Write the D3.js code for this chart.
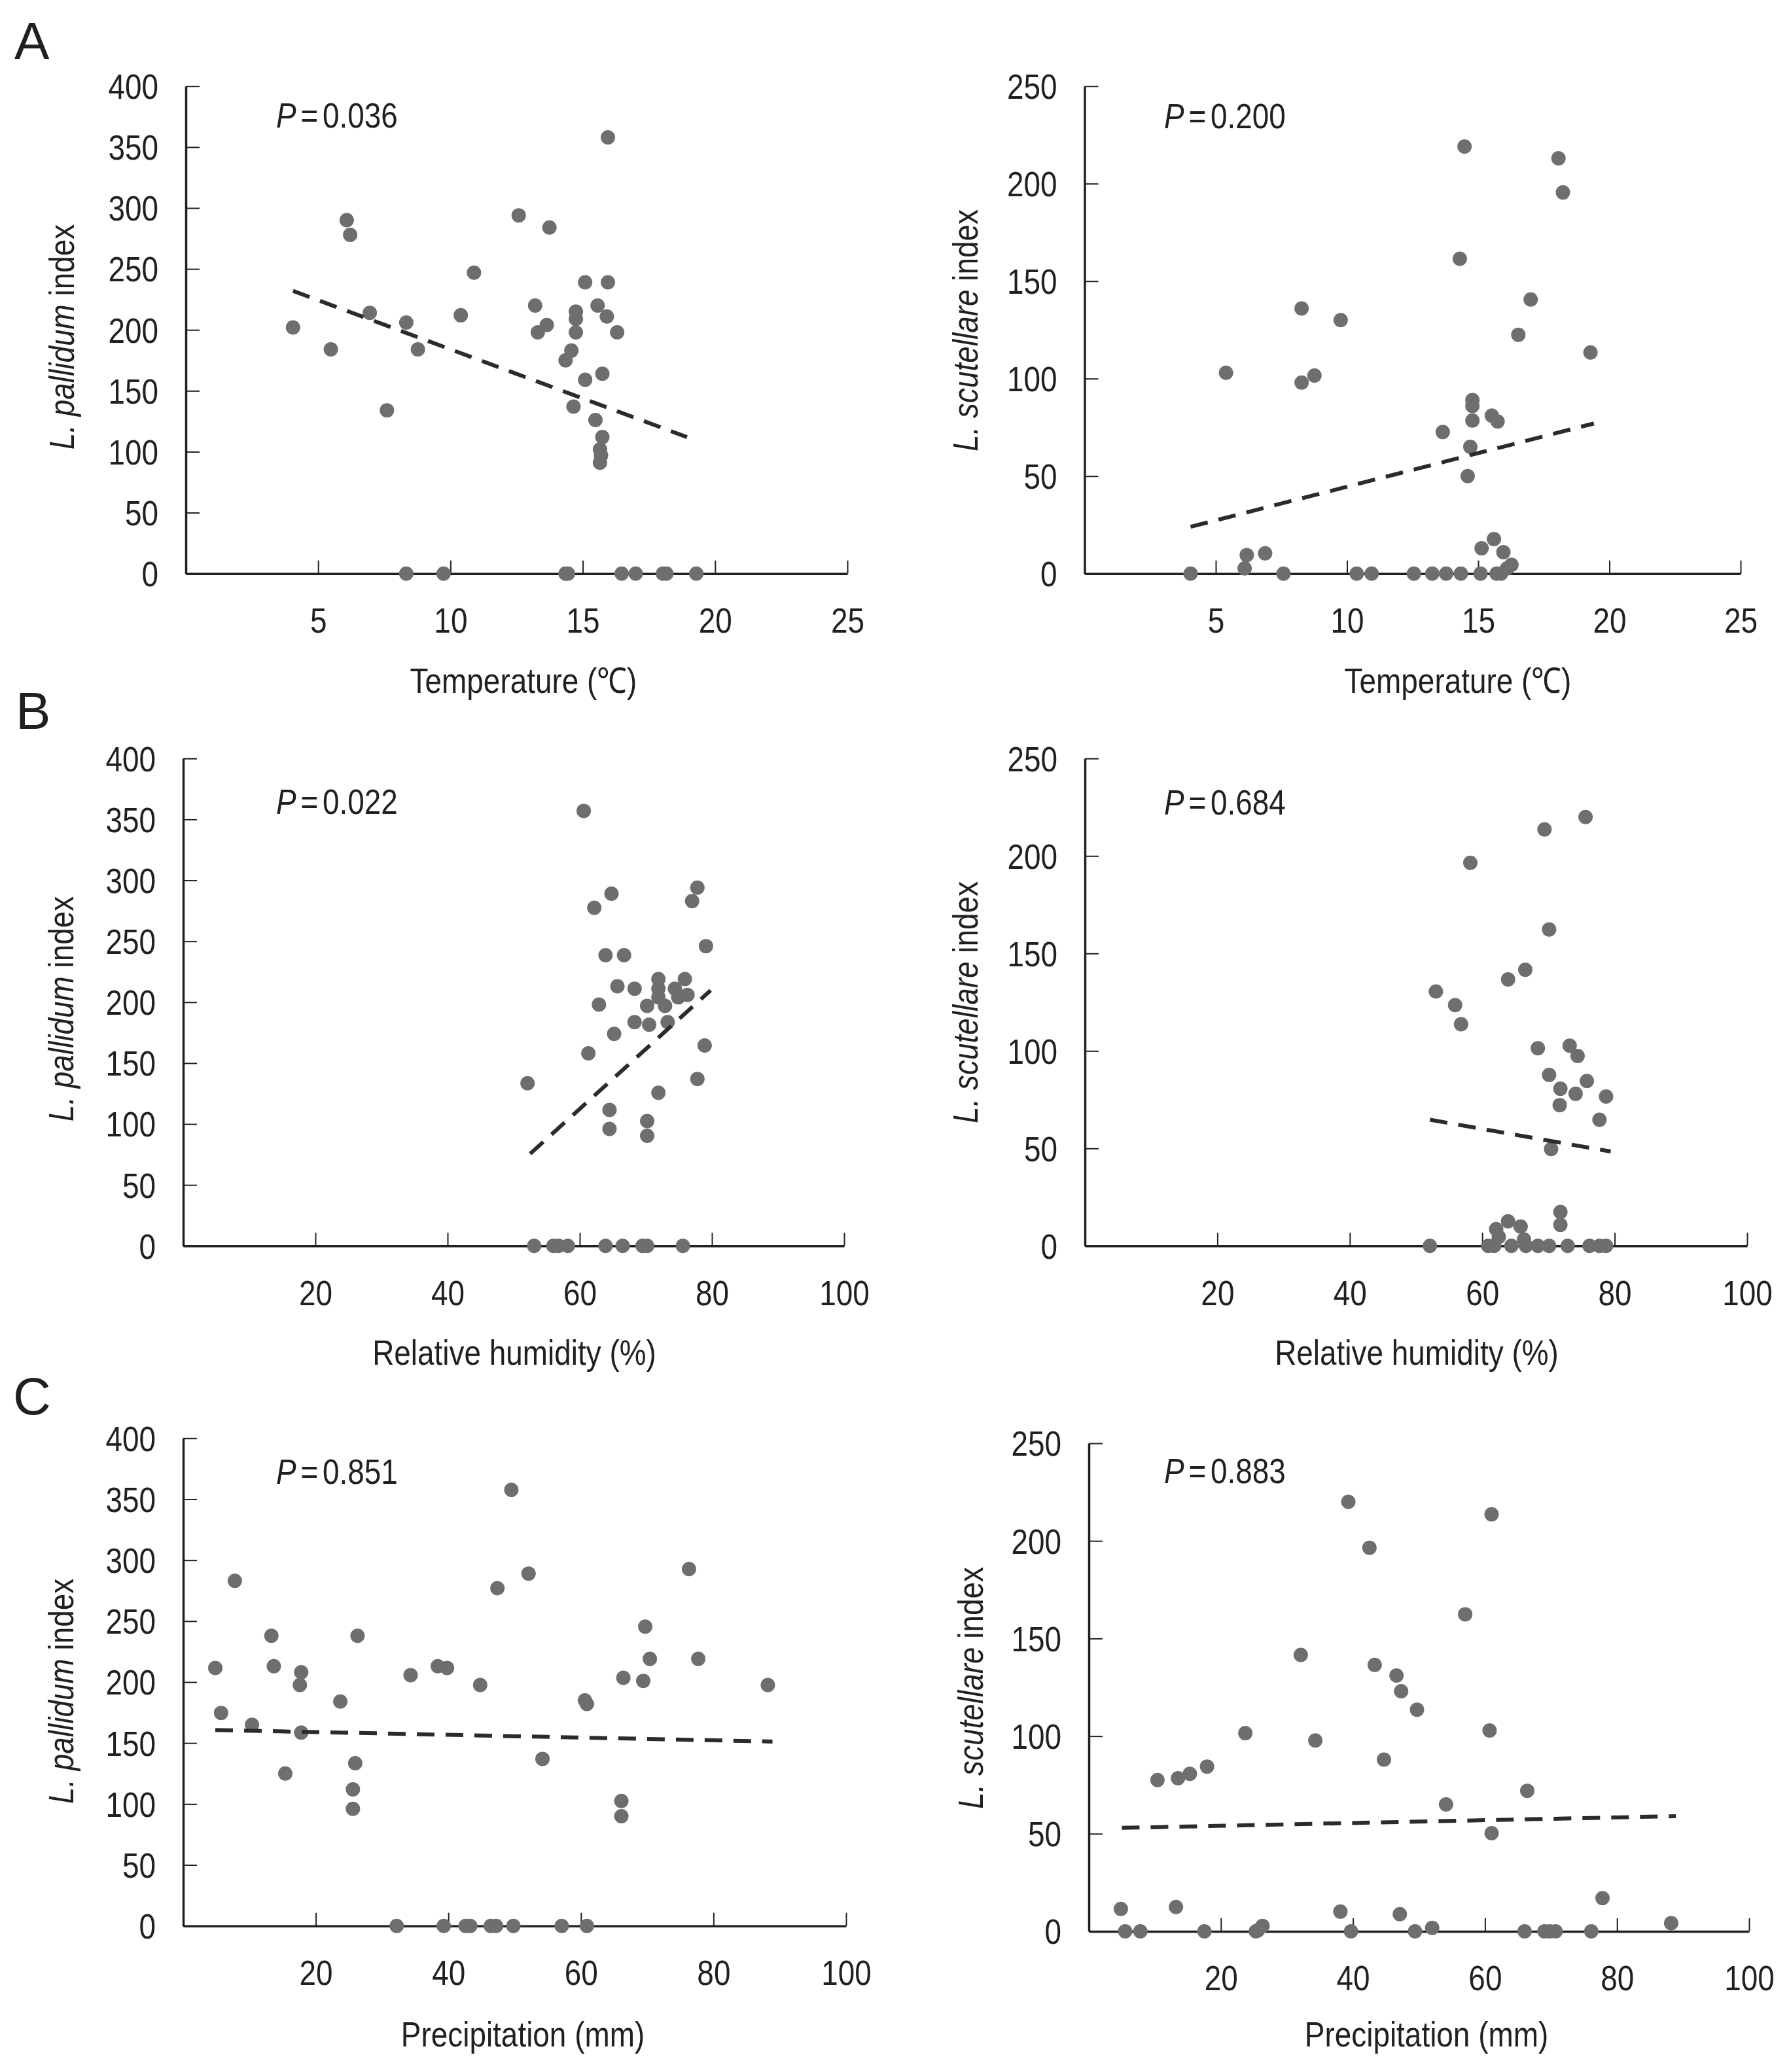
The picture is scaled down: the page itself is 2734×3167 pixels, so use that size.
<!DOCTYPE html>
<html><head><meta charset="utf-8">
<script src="https://cdn.jsdelivr.net/npm/d3@7"></script>
<style>body{margin:0;background:#fff} svg{display:block}</style>
</head><body>
<svg id="c" width="2734" height="3167"></svg>
<script>
// ---------- tick labels / text ----------
const tempTicks = [5, 10, 15, 20, 25];
const pctTicks = [20, 40, 60, 80, 100];
const pallidumTicks = [0, 50, 100, 150, 200, 250, 300, 350, 400];
const scutellareTicks = [0, 50, 100, 150, 200, 250];
const xTitles = ["Temperature (℃)", "Relative humidity (%)", "Precipitation (mm)"];
const pValues = ["0.036", "0.200", "0.022", "0.684", "0.851", "0.883"];
const panelLetters = ["A", "B", "C"];

// ---------- data: [x, index] ----------
const tempPallidum = [[4.05,202],[5.48,184],[6.08,290],[6.21,278],[6.95,214],[7.6,134],[8.33,206],[8.77,184],
 [10.39,212],[10.89,247],[12.58,294],[13.2,220],[13.3,198],[13.64,204],[13.74,284],[15.09,239],[15.95,239],
 [15.95,358],[14.74,215],[14.74,209],[14.74,198],[14.57,183],[14.35,175],[15.09,159],[15.74,164],[14.65,137],
 [15.48,126],[15.56,220],[15.91,211],[16.3,198],[15.74,112],[15.65,102],[15.69,97],[15.65,91],
 [8.33,0],[9.74,0],[14.35,0],[14.44,0],[16.47,0],[17.0,0],[18.03,0],[18.16,0],[19.29,0]];
const tempPallidumTrend = [[4.05,232],[18.94,112]];

const tempScutellare = [[5.39,103],[8.27,136],[8.27,98],[8.76,101.6],[9.76,130],[14.3,161.5],[14.48,219],
 [18.06,213],[18.23,195.5],[17.0,140.6],[16.53,122.5],[19.28,113.4],[14.78,89],[14.78,86],[14.78,78.5],
 [13.65,72.6],[15.52,81],[15.74,78],[14.7,65],[14.6,50],[15.6,17.7],[15.13,13],[15.96,11],[16.27,4.5],
 [16.1,2.7],[6.18,9.5],[6.88,10.4],[6.1,2.7],
 [4.04,0],[7.58,0],[10.37,0],[10.94,0],[12.55,0],[13.25,0],[13.78,0],[14.34,0],[15.09,0],[15.7,0],[15.87,0]];
const tempScutellareTrend = [[4.04,24],[19.41,77]];

const humPallidum = [[60.6,357],[64.8,289],[62.2,277.5],[77.8,294],[77.0,283],[79.1,246],[63.9,238.5],[66.7,238.5],
 [65.7,213],[68.3,211],[71.9,219],[71.9,211],[71.9,204],[72.9,197],[75.9,219],[74.4,211],[76.3,206],[74.9,204],
 [70.2,197],[62.9,198],[68.3,183.6],[70.5,181.5],[73.3,183.6],[65.2,174],[61.3,158],[78.9,164.5],[77.8,137],
 [52.1,133.5],[71.9,125.7],[64.5,111.6],[64.5,96],[70.2,102.4],[70.2,90.4],
 [53.1,0],[56.0,0],[56.8,0],[58.2,0],[63.9,0],[66.5,0],[69.5,0],[70.2,0],[75.6,0]];
const humPallidumTrend = [[52.5,75.6],[79.8,209.7]];

const humScutellare = [[58.2,196.5],[69.4,213.6],[75.6,220],[70.1,162.3],[66.5,141.6],[63.9,136.7],[53.0,130.5],
 [55.9,123.5],[56.8,113.7],[68.4,101.4],[73.2,102.7],[74.4,97.4],[70.1,87.7],[75.8,84.6],[71.8,80.6],[74.1,78],
 [78.7,76.6],[71.7,72.2],[77.7,64.7],[70.4,49.7],[71.8,17.4],[71.8,10.8],[63.9,12.6],[65.8,9.9],[62.1,8.6],
 [62.5,4.6],[66.3,3.3],
 [52.1,0],[60.9,0],[61.8,0],[64.4,0],[66.6,0],[68.4,0],[70.1,0],[72.9,0],[76.2,0],[77.7,0],[78.7,0]];
const humScutellareTrend = [[52.1,64.7],[79.4,48.4]];

const precPallidum = [[4.84,211.6],[5.71,174.7],[7.79,283],[10.38,165],[13.3,238],[13.67,213],[15.4,125],[17.8,208],
 [17.6,197.6],[17.8,158.5],[23.7,184],[26.3,238],[25.95,133.5],[25.6,112],[25.6,96],[34.3,205.7],[38.4,213],
 [39.8,211.6],[44.8,197.6],[47.4,277],[49.5,357.6],[52.1,289],[54.2,137],[60.6,185],[60.9,182],[66.4,203.5],
 [66.1,102.5],[66.1,90],[69.4,201],[69.7,245.5],[70.4,219],[76.3,292.7],[77.7,219],[88.2,197.6],
 [32.2,0],[39.3,0],[42.6,0],[43.3,0],[46.4,0],[47.2,0],[49.8,0],[57.1,0],[60.9,0]];
const precPallidumTrend = [[4.84,160.7],[88.9,151.2]];

const precScutellare = [[39.3,220],[61.0,213.6],[42.5,196.5],[57.0,162.4],[32.1,141.6],[43.3,136.5],[46.6,131],
 [47.3,123],[49.7,113.5],[23.7,101.5],[60.7,102.9],[34.3,97.8],[44.7,88],[17.9,84.4],[15.3,80.7],[13.5,78.4],
 [10.4,77.5],[66.4,72],[54.1,65],[61.0,50.3],[77.8,17],[4.85,11.5],[13.2,12.5],[38.1,10.1],[47.1,8.8],
 [26.3,2.8],[25.6,0.5],[52.0,1.8],[88.2,4.2],
 [5.5,0],[7.8,0],[17.5,0],[25.3,0],[39.7,0],[49.4,0],[66.0,0],[69.0,0],[69.8,0],[70.7,0],[76.1,0]];
const precScutellareTrend = [[5.0,53],[88.9,59]];

// ---------- layout ----------
const panels = [
 {data: tempPallidum, trend: tempPallidumTrend, xt: tempTicks, yt: pallidumTicks, sp: "pallidum", title: 0, p: 0,
  x0: 284, x1: 1295, yT: 131.7, yB: 876.7, px: 422, py: 195, ytx: 113, yty: 515, xtx: 800, xty: 1059},
 {data: tempScutellare, trend: tempScutellareTrend, xt: tempTicks, yt: scutellareTicks, sp: "scutellare", title: 0, p: 1,
  x0: 1657.5, x1: 2660, yT: 131.7, yB: 876.7, px: 1779, py: 196, ytx: 1494, yty: 505, xtx: 2228, xty: 1059},
 {data: humPallidum, trend: humPallidumTrend, xt: pctTicks, yt: pallidumTicks, sp: "pallidum", title: 1, p: 2,
  x0: 280, x1: 1290, yT: 1159.3, yB: 1904.3, px: 422, py: 1244, ytx: 112, yty: 1542, xtx: 786, xty: 2086},
 {data: humScutellare, trend: humScutellareTrend, xt: pctTicks, yt: scutellareTicks, sp: "scutellare", title: 1, p: 3,
  x0: 1658, x1: 2670, yT: 1159.3, yB: 1904.3, px: 1779, py: 1245, ytx: 1494, yty: 1532, xtx: 2165, xty: 2086},
 {data: precPallidum, trend: precPallidumTrend, xt: pctTicks, yt: pallidumTicks, sp: "pallidum", title: 2, p: 4,
  x0: 280, x1: 1293, yT: 2198.3, yB: 2943.7, px: 422, py: 2268, ytx: 112, yty: 2585, xtx: 799, xty: 3128},
 {data: precScutellare, trend: precScutellareTrend, xt: pctTicks, yt: scutellareTicks, sp: "scutellare", title: 2, p: 5,
  x0: 1664, x1: 2673, yT: 2206, yB: 2952, px: 1779, py: 2267, ytx: 1502, yty: 2580, xtx: 2180, xty: 3128}
];
const letterPos = [[22, 90], [24, 1114], [20, 2162]];

const FONT = "'Liberation Sans', Arial, Helvetica, sans-serif";
const FS = 54, SX = 0.85;
const svg = d3.select("#c");

letterPos.forEach((p, i) => {
  svg.append("text").attr("x", p[0]).attr("y", p[1]).attr("font-family", FONT)
    .attr("font-size", 80).attr("fill", "#231f20").text(panelLetters[i]);
});

panels.forEach(P => {
  const xMax = d3.max(P.xt), yMax = d3.max(P.yt);
  const x = d3.scaleLinear().domain([0, xMax]).range([P.x0, P.x1]);
  const y = d3.scaleLinear().domain([0, yMax]).range([P.yB, P.yT]);
  const g = svg.append("g");

  // y axis
  const ya = g.append("g").attr("transform", `translate(${P.x0},0)`)
    .call(d3.axisLeft(y).tickValues(P.yt).tickSizeInner(-21).tickSizeOuter(0).tickPadding(42));
  // x axis
  const xa = g.append("g").attr("transform", `translate(0,${P.yB})`)
    .call(d3.axisBottom(x).tickValues(P.xt).tickSizeInner(-20).tickSizeOuter(0).tickPadding(52));
  [ya, xa].forEach(a => {
    a.select(".domain").attr("stroke", "#231f20").attr("stroke-width", 3.5);
    a.selectAll(".tick line").attr("stroke", "#231f20").attr("stroke-width", 2);
    a.selectAll(".tick text").attr("font-family", FONT).attr("font-size", FS).attr("fill", "#231f20");
  });
  ya.selectAll(".tick text").attr("x", -42 / SX).attr("dy", "0.35em").attr("transform", `scale(${SX},1)`);
  xa.selectAll(".tick text").attr("transform", `scale(${SX},1)`);

  // points
  g.append("g").selectAll("circle").data(P.data).join("circle")
    .attr("cx", d => x(d[0])).attr("cy", d => y(d[1])).attr("r", 11).attr("fill", "#6e6e6e");

  // trend line
  g.append("path").datum(P.trend)
    .attr("d", d3.line().x(d => x(d[0])).y(d => y(d[1])))
    .attr("fill", "none").attr("stroke", "#2b2b2b").attr("stroke-width", 6)
    .attr("stroke-dasharray", "27,17");

  // P value
  const pt = g.append("text").attr("font-family", FONT).attr("font-size", FS).attr("fill", "#231f20")
    .attr("transform", `translate(${P.px},${P.py}) scale(${SX},1)`);
  pt.append("tspan").attr("font-style", "italic").text("P");
  pt.append("tspan").attr("dx", 8).text("=");
  pt.append("tspan").attr("dx", 8).text(pValues[P.p]);

  // y title
  const yt = g.append("text").attr("font-family", FONT).attr("font-size", FS).attr("fill", "#231f20")
    .attr("text-anchor", "middle")
    .attr("transform", `translate(${P.ytx},${P.yty}) rotate(-90) scale(${SX},1)`);
  yt.append("tspan").attr("font-style", "italic").text("L. " + P.sp);
  yt.append("tspan").text(" index");

  // x title
  g.append("text").attr("font-family", FONT).attr("font-size", FS).attr("fill", "#231f20")
    .attr("text-anchor", "middle")
    .attr("transform", `translate(${P.xtx},${P.xty}) scale(${SX},1)`)
    .text(xTitles[P.title]);
});
</script>
</body></html>
